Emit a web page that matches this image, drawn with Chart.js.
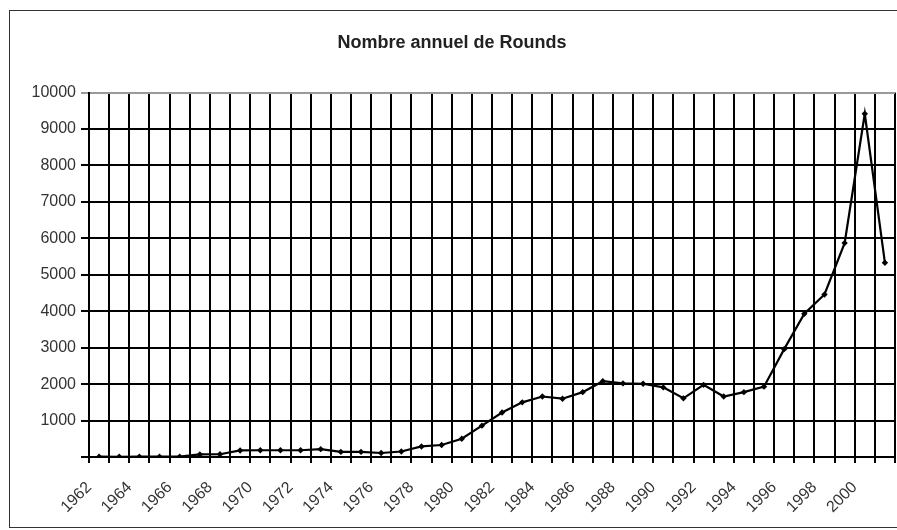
<!DOCTYPE html>
<html>
<head>
<meta charset="utf-8">
<script src="https://cdn.jsdelivr.net/npm/chart.js@4.4.1/dist/chart.umd.min.js"></script>
<style>
  html, body { margin: 0; padding: 0; overflow: hidden; background: #fff; }
  #frame { position: absolute; left: 9px; top: 10px; width: 940px; height: 516px; border: 1.5px solid #333; }
  #wrap { position: absolute; left: 0; top: 0; }
</style>
</head>
<body>
<div id="frame"></div>
<div id="wrap"><canvas id="rounds" width="920" height="530"></canvas></div>
<script>
// Nombre annuel de Rounds, 1962-2001
const years = [
  1962, 1963, 1964, 1965, 1966, 1967, 1968, 1969, 1970, 1971,
  1972, 1973, 1974, 1975, 1976, 1977, 1978, 1979, 1980, 1981,
  1982, 1983, 1984, 1985, 1986, 1987, 1988, 1989, 1990, 1991,
  1992, 1993, 1994, 1995, 1996, 1997, 1998, 1999, 2000, 2001
]
const rounds = [
  10, 5, 10, 10, 10, 70, 75, 180, 185, 185,
  185, 215, 140, 140, 110, 150, 290, 330, 500, 860,
  1220, 1500, 1660, 1600, 1780, 2080, 2020, 2010, 1910, 1610,
  1980, 1660, 1780, 1930, 2960, 3930, 4460, 5870, 9420, 5330
]
const yTicks = [1000, 2000, 3000, 4000, 5000, 6000, 7000, 8000, 9000, 10000]

const ctx = document.getElementById("rounds").getContext("2d")
new Chart(ctx, {
    type: "line",
    data: {
        labels: years.map(String),
        datasets: [
            {
                label: "Rounds",
                data: rounds,
                borderColor: "#000",
                borderWidth: 2.2,
                backgroundColor: "#000",
                pointStyle: "rectRot",
                pointRadius: 3.2,
                pointBorderWidth: 0,
                tension: 0
            }
        ]
    },
    options: {
        responsive: false,
        animation: false,
        layout: { padding: { left: 9, right: 25, top: 0, bottom: 0 } },
        plugins: {
            legend: { display: false },
            tooltip: { enabled: false },
            title: {
                display: true,
                text: "Nombre annuel de Rounds",
                color: "#222",
                font: { family: "Arial, 'Liberation Sans', sans-serif", size: 18, weight: "bold", lineHeight: 1.2 },
                padding: { top: 32, bottom: 39 }
            }
        },
        scales: {
            x: {
                offset: true,
                afterFit: (axis) => { axis.height = 73 },
                grid: { offset: true, color: "#000", lineWidth: 2, tickLength: 6 },
                border: { color: "#000", width: 2 },
                ticks: {
                    autoSkip: false,
                    minRotation: 45,
                    maxRotation: 45,
                    labelOffset: -10,
                    padding: 15,
                    color: "#333",
                    font: { family: "Arial, 'Liberation Sans', sans-serif", size: 16 },
                    callback: (value, index) => (years[index] % 2 === 0 ? String(years[index]) : "")
                }
            },
            y: {
                min: 0,
                max: 10000,
                afterFit: (axis) => { axis.width = 80 },
                afterBuildTicks: (axis) => { axis.ticks = [0].concat(yTicks).map(v => ({ value: v })) },
                grid: {
                    color: (c) => (c.tick && c.tick.value === 10000 ? "#999" : "#000"),
                    lineWidth: 2,
                    tickLength: 8
                },
                border: { color: "#000", width: 2 },
                ticks: {
                    padding: 5,
                    color: "#333",
                    font: { family: "Arial, 'Liberation Sans', sans-serif", size: 16 },
                    callback: (value) => (value === 0 ? "" : String(value))
                }
            }
        }
    }
});
</script>
</body>
</html>
